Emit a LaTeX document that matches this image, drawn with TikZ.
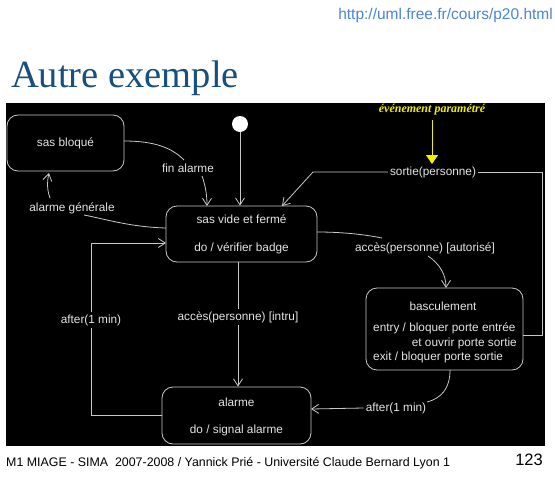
\documentclass[tikz,border=0pt]{standalone}
\usepackage{fontspec}
\setmainfont{Liberation Sans}
\newfontfamily\serifA{Liberation Serif}
\usetikzlibrary{arrows.meta}
\definecolor{urlblue}{HTML}{4A86D8}
\definecolor{titleblue}{HTML}{17507F}
\definecolor{linegray}{HTML}{C8C8C8}
\definecolor{txtgray}{HTML}{E4E4E4}
\definecolor{evyellow}{HTML}{F0F000}
\tikzset{
  statebox/.style={draw=linegray, line width=0.8pt, rounded corners=11pt, inner sep=0pt},
  txt/.style={text=txtgray, font=\fontsize{11.8}{13}\selectfont, inner sep=1pt},
  lbl/.style={text=txtgray, font=\fontsize{11.8}{13}\selectfont, fill=black, inner sep=2pt},
  conn/.style={draw=linegray, line width=0.8pt},
  arr/.style={conn, -{Straight Barb[length=7pt,width=9pt]}},
}
\begin{document}
\begin{tikzpicture}[x=1pt,y=-1pt]
\useasboundingbox (0,0) rectangle (555,477);
\fill[white] (0,0) rectangle (555,477);
% header
\node[anchor=base east, text=urlblue, font=\fontsize{15.5}{18}\selectfont, inner sep=0pt] (url) at (553,19) {http://uml.free.fr/cours/p20.html};
\node[anchor=base west, text=titleblue, font=\serifA\fontsize{38.5}{44}\selectfont, inner sep=0pt] (title) at (11,87) {Autre exemple};
% black panel
\fill[black] (6,103) rectangle (545,446);
% states
\node[statebox, minimum width=117pt, minimum height=56pt] (bloque) at (65.5,143) {};
\node[txt] (bloquet) at (65.5,143) {sas bloqué};
\node[circle, fill=white, minimum size=16pt, inner sep=0pt] (init) at (240,124) {};
\node[statebox, minimum width=151pt, minimum height=56pt] (vide) at (241.5,234) {};
\node[txt] (videa) at (241.5,219) {sas vide et fermé};
\node[txt] (videb) at (241.5,248) {do / vérifier badge};
\node[statebox, minimum width=149pt, minimum height=57pt] (alarme) at (236.5,415.5) {};
\node[txt] (alarmea) at (236.5,402) {alarme};
\node[txt] (alarmeb) at (236.5,430) {do / signal alarme};
\node[statebox, minimum width=157pt, minimum height=82pt] (bascule) at (444.5,329) {};
\node[txt] (basca) at (443,306) {basculement};
\node[txt, anchor=west] (bascb) at (372,328) {entry / bloquer porte entrée};
\node[txt, anchor=east] (bascc) at (518,343) {et ouvrir porte sortie};
\node[txt, anchor=west] (bascd) at (372,357) {exit / bloquer porte sortie};
% labels
\node[lbl] (lfin) at (188,168) {fin alarme};
\node[lbl] (lgen) at (72,208) {alarme générale};
\node[lbl] (lintru) at (238,317) {accès(personne) [intru]};
\node[lbl] (laft1) at (91,320) {after(1 min)};
\node[lbl] (laut) at (425,248) {accès(personne) [autorisé]};
\node[lbl] (laft2) at (396,408) {after(1 min)};
\node[lbl] (lsort) at (433,172) {sortie(personne)};
% coordinates
\coordinate (c1) at (124,141);
\coordinate (f1) at (184,160);
\coordinate (f2) at (202,176);
\coordinate (c2) at (207,206);
\coordinate (c3) at (166,228);
\coordinate (g1) at (84,215);
\coordinate (g2) at (50,198);
\coordinate (c4) at (49,173);
\coordinate (c5) at (162,415);
\coordinate (c6) at (166,243);
\coordinate (c7) at (523,335);
\coordinate (c8) at (282,206);
\coordinate (c9) at (317,232);
\coordinate (a1) at (382,238);
\coordinate (a2) at (428,256);
\coordinate (c10) at (446,288);
\coordinate (c11) at (450,370);
\coordinate (b1) at (427,402);
\coordinate (c12) at (311,409);
% connectors
\draw[arr] (init) -- (init |- vide.north);
\draw[conn] (c1) .. controls (155,141) and (172,148) .. (f1);
\draw[arr] (f2) .. controls (205,184) and (207,194) .. (c2);
\draw[conn] (c3) .. controls (130,227) and (105,219) .. (g1);
\draw[arr] (g2) .. controls (47,190) and (47,182) .. (c4);
\draw[conn] (vide.south -| lintru) -- (lintru.north);
\draw[arr] (lintru.south) -- (alarme.north -| lintru);
\draw[conn] (c5) -- (91,415) -- (laft1.south);
\draw[arr] (laft1.north) -- (91,243) -- (c6);
\draw[conn] (c7) -- (542,335) -- (542,172) -- (lsort.east);
\draw[arr] (lsort.west) -- (313,172) -- (c8);
\draw[conn] (c9) .. controls (340,232) and (362,234) .. (a1);
\draw[arr] (a2) .. controls (440,264) and (446,275) .. (c10);
\draw[conn] (c11) .. controls (450,388) and (442,398) .. (b1);
\draw[arr] (laft2.west) -- (c12);
% annotation
\node[anchor=base, text=evyellow, font=\serifA\bfseries\itshape\fontsize{12}{14}\selectfont, inner sep=1pt] (ev) at (432,112) {événement paramétré};
\coordinate (evtip) at (432,164);
\draw[evyellow, line width=1pt, -{Triangle[length=9pt,width=12pt]}] (432,120) -- (evtip);
% footer
\node[anchor=base west, font=\fontsize{12.4}{14}\selectfont, inner sep=0pt] (foot) at (6,466) {M1 MIAGE - SIMA\ \ 2007-2008 / Yannick Prié - Université Claude Bernard Lyon 1};
\node[anchor=base east, font=\fontsize{16.5}{18}\selectfont, inner sep=0pt] (page) at (543,465) {123};
\end{tikzpicture}
\end{document}
